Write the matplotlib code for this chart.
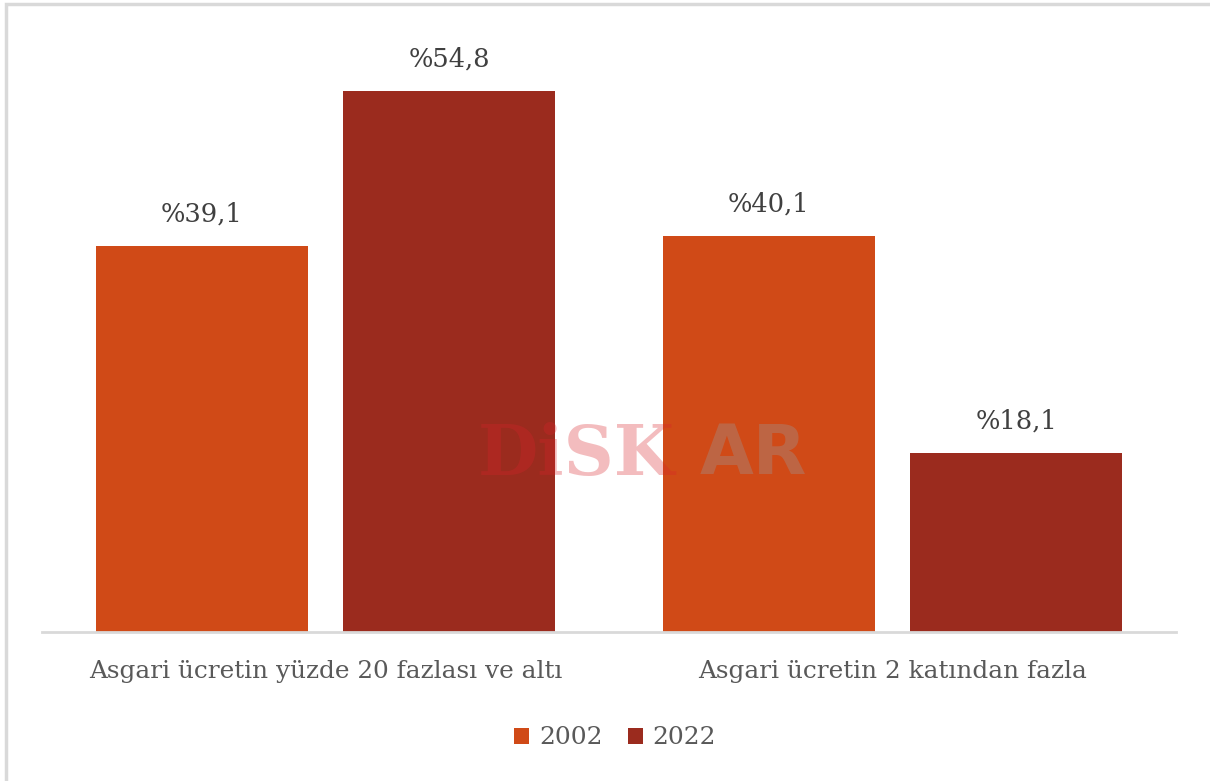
import matplotlib.pyplot as plt
import numpy as np
from matplotlib.patches import Rectangle

categories = ['Asgari ücretin yüzde 20 fazlası ve altı', 'Asgari ücretin 2 katından fazla']
years = ['2002', '2022']
values_2002 = [39.1, 40.1]
values_2022 = [54.8, 18.1]
colors = ['#D04A17', '#9B2B1E']

plt.rcParams['font.family'] = ['DejaVu Serif']

fig = plt.figure(figsize=(12.1, 7.81), dpi=100)
W, H = 1210, 781
ax = fig.add_axes([42 / W, (H - 632) / H, (1176 - 42) / W, (632 - 30) / H])

x = np.arange(len(categories))
width = 0.374
off = 0.218

for vals, dx, col, lab in [(values_2002, -off, colors[0], years[0]),
                           (values_2022, off, colors[1], years[1])]:
    bars = ax.bar(x + dx, vals, width, color=col, label=lab, zorder=2)
    for b, v in zip(bars, vals):
        ax.text(b.get_x() + b.get_width() / 2, v + 3.3, f'%{v:.1f}'.replace('.', ','),
                ha='center', va='center', fontsize=18.5, color='#404040')

ax.set_xlim(-0.5, 1.5)
ax.set_ylim(0, 61)
ax.set_yticks([])
ax.set_xticks(x)
ax.set_xticklabels(categories, fontsize=17.8, color='#595959')
ax.tick_params(axis='x', length=0, pad=20)
for s in ['top', 'right', 'left']:
    ax.spines[s].set_visible(False)
ax.spines['bottom'].set_color('#d9d9d9')
ax.spines['bottom'].set_linewidth(2)

leg = fig.legend(loc='center', bbox_to_anchor=(615 / W, 1 - 738 / H), ncol=2, frameon=False,
                 fontsize=18, handlelength=0.6, handleheight=0.6, columnspacing=1.0, handletextpad=0.4)
for t in leg.get_texts():
    t.set_color('#595959')

# watermark
fig.text(478 / W, 1 - 455 / H, 'DiSK', fontsize=50, fontweight='bold', color='#d8232a',
         alpha=0.3, va='center', ha='left', family='DejaVu Serif')
fig.text(700 / W, 1 - 455 / H, 'AR', fontsize=50, fontweight='bold', color='#9a9a9a',
         alpha=0.35, va='center', ha='left', family='DejaVu Sans')

# outer frame
fig.patches.append(Rectangle((6 / W, -0.01), 1.2, 1 - 4 / H + 0.01, transform=fig.transFigure,
                             fill=False, edgecolor='#d9d9d9', linewidth=2.5))

fig.savefig('out.png', dpi=100)
